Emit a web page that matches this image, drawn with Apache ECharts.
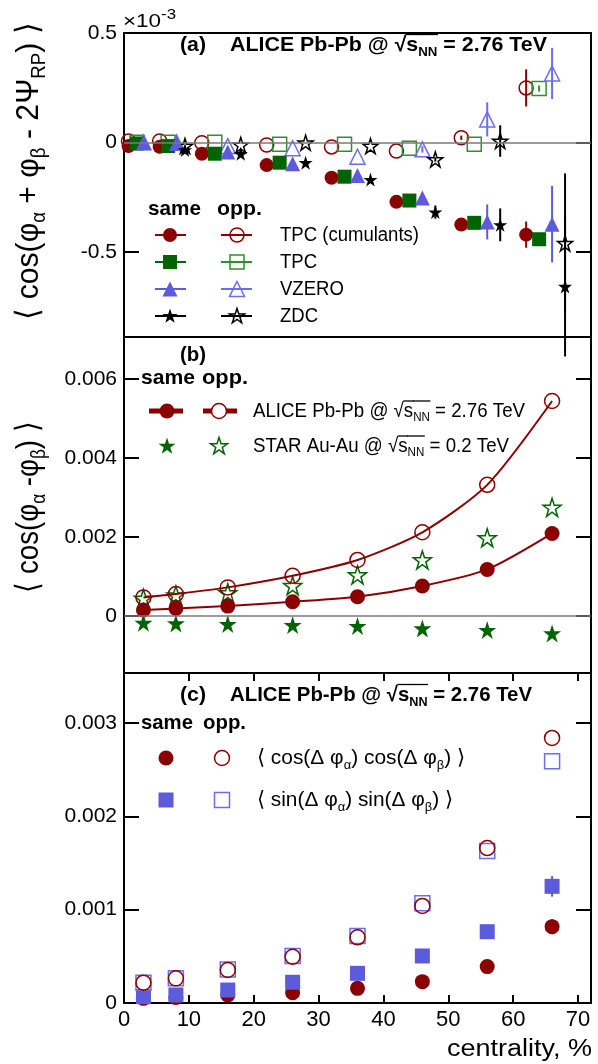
<!DOCTYPE html>
<html><head><meta charset="utf-8">
<script src="https://cdn.jsdelivr.net/npm/echarts@6/dist/echarts.min.js"></script>
<style>html,body{margin:0;padding:0;background:#fff}#c{width:598px;height:1064px}</style>
</head><body><div id="c"></div>
<script>
const FONT = '"Liberation Sans", Arial, Helvetica, sans-serif';

// ---------- tick values ----------
const xTicks = [0, 10, 20, 30, 40, 50, 60, 70];
const yTicksA = [-0.5, 0, 0.5];
const yTicksB = [0, 0.002, 0.004, 0.006];
const yTicksC = [0, 0.001, 0.002, 0.003];

// ---------- panel (a): <cos(phi_a + phi_b - 2 Psi_RP)> x 1e-3 ----------
const xCum   = [0.7, 5.5, 12, 22, 32, 42, 52, 62];
const xTPC   = [2.0, 6.8, 14, 24, 34, 44, 54, 64];
const xVZERO = [3.0, 8.1, 16, 26, 36, 46, 56, 66];
const xZDC   = [9.4, 18, 28, 38, 48, 58, 68];

const cumSame    = [-0.017, -0.020, -0.052, -0.104, -0.162, -0.272, -0.376, -0.422];
const cumSameErr = [0, 0, 0, 0, 0, 0, 0.010, 0.060];
const cumOpp     = [0.006, 0.006, -0.002, -0.012, -0.021, -0.040, 0.021, 0.249];
const cumOppErr  = [0, 0, 0, 0, 0, 0, 0.010, 0.085];
const tpcSame    = [-0.005, -0.017, -0.052, -0.093, -0.157, -0.266, -0.368, -0.443];
const tpcSameErr = [0, 0, 0, 0, 0, 0, 0, 0.014];
const tpcOpp     = [0.000, 0.001, 0.000, -0.009, -0.009, -0.027, -0.009, 0.246];
const tpcOppErr  = [0, 0, 0, 0, 0, 0, 0, 0.014];
const v0Same     = [-0.002, -0.005, -0.044, -0.098, -0.151, -0.254, -0.364, -0.374];
const v0SameErr  = [0, 0, 0, 0, 0, 0.020, 0.080, 0.175];
const v0Opp      = [0.000, 0.000, -0.017, -0.027, -0.066, -0.032, 0.105, 0.315];
const v0OppErr   = [0, 0, 0, 0, 0, 0.015, 0.078, 0.117];
const zdcSame    = [-0.035, -0.052, -0.093, -0.170, -0.319, -0.377, -0.659];
const zdcSameErr = [0, 0, 0, 0, 0.030, 0.075, 0.320];
const zdcOpp     = [-0.017, -0.012, -0.002, -0.017, -0.078, 0.006, -0.462];
const zdcOppErr  = [0, 0, 0, 0, 0.010, 0.072, 0.320];

// ---------- panel (b): <cos(phi_a - phi_b)> ----------
const xBins = [3, 8, 16, 26, 36, 46, 56, 66];
const aliceSame = [0.000152, 0.000194, 0.000253, 0.000363, 0.000489, 0.00076, 0.00118, 0.00209];
const aliceOpp  = [0.000473, 0.000557, 0.000726, 0.00102, 0.00142, 0.00212, 0.00332, 0.00544];
const starSame  = [-0.000169, -0.000186, -0.000203, -0.000228, -0.000253, -0.000312, -0.000354, -0.000439];
const starOpp   = [0.000447, 0.000532, 0.00059, 0.000768, 0.00104, 0.00142, 0.00198, 0.00275];

// ---------- panel (c) ----------
const cosSame    = [0.00005, 0.00006, 0.000086, 0.00011, 0.000157, 0.000229, 0.00039, 0.000818];
const cosSameErr = [0, 0, 0, 0, 0, 0, 0, 0.00008];
const cosOpp     = [0.000218, 0.000264, 0.000354, 0.000496, 0.000704, 0.00104, 0.00166, 0.00284];
const sinSame    = [0.000068, 0.000086, 0.000139, 0.000222, 0.000318, 0.000504, 0.000764, 0.00125];
const sinSameErr = [0, 0, 0, 0, 0, 0, 0, 0.00011];
const sinOpp     = [0.000218, 0.000266, 0.00036, 0.000503, 0.000718, 0.00107, 0.00163, 0.00259];

// ---------- colours ----------
const RED = '#8b0000', GREEN = '#006400', GREEN_O = '#2f8f2f', BLUE = '#5b5bdb', BLUE_O = '#6c6cf0', BLACK = '#000';
const STAR_PATH = 'path://M100,0L122.45,69.1L195.1,69.1L136.3,111.8L158.8,180.9L100,138.2L41.2,180.9L63.7,111.8L4.9,69.1L77.55,69.1Z';

const pts = (xs, ys) => xs.map((x, i) => [x, ys[i]]);
const errs = (xs, ys, es) => xs.map((x, i) => [x, ys[i], es[i]]).filter(d => d[2] > 0);

function sc(g, data, symbol, size, color, filled, z) {
  return {
    type: 'scatter', xAxisIndex: g, yAxisIndex: 2 * g, data, symbol, symbolSize: size, z: z || 3, silent: true,
    itemStyle: filled ? { color, borderWidth: 0, opacity: 1 } : { color: 'rgba(0,0,0,0)', borderColor: color, borderWidth: 1.5, opacity: 1 }
  };
}
function eb(g, data, color, w) {
  return {
    type: 'custom', xAxisIndex: g, yAxisIndex: 2 * g, data, silent: true, z: 2,
    renderItem: (p, api) => {
      const x = api.value(0), y = api.value(1), e = api.value(2);
      const a = api.coord([x, y - e]), b = api.coord([x, y + e]);
      return { type: 'line', shape: { x1: a[0], y1: a[1], x2: b[0], y2: b[1] }, style: { stroke: color, lineWidth: w || 2 } };
    }
  };
}
const zeroLine = { silent: true, symbol: 'none', label: { show: false }, lineStyle: { color: '#7a7a7a', width: 1.5, type: 'solid' }, data: [{ yAxis: 0 }], animation: false };

// ---------- axes ----------
function xAx(g, pos, show) {
  return {
    type: 'value', gridIndex: g === 3 ? 2 : g, position: pos, min: 0, max: 72,
    axisLine: { show: false, onZero: false }, splitLine: { show: false },
    axisTick: { show: show, inside: true, length: 8, lineStyle: { color: '#000', width: 2 }, customValues: xTicks },
    axisLabel: { show: show && pos === 'bottom', color: '#000', fontSize: 22, fontFamily: FONT, margin: 6, customValues: xTicks, showMinLabel: true, showMaxLabel: true }
  };
}
function yAx(g, pos, min, max, ticks) {
  return {
    type: 'value', gridIndex: g, position: pos, min, max,
    axisLine: { show: false, onZero: false }, splitLine: { show: false },
    axisTick: { show: true, inside: true, length: 15, lineStyle: { color: '#000', width: 2 }, customValues: ticks },
    axisLabel: { show: pos === 'left', color: '#000', fontSize: 21, fontFamily: FONT, margin: 7, customValues: ticks, showMinLabel: true, showMaxLabel: true }
  };
}

// ---------- text helpers ----------
const ctx = document.createElement('canvas').getContext('2d');
function tw(t, font) { ctx.font = font; return ctx.measureText(t).width; }
function fontOf(size, bold) { return (bold ? 'bold ' : '') + size + 'px ' + FONT; }
function layout(segs, o) {
  const kids = []; let x = 0;
  segs.forEach(s => {
    const size = o.size * (s.k || 1);
    const font = fontOf(size, s.b !== undefined ? s.b : o.bold);
    const w = tw(s.t, font);
    kids.push({ type: 'text', x: x, y: (s.dy || 0) * o.size, silent: true,
      style: { text: s.t, font, fill: o.color || '#000', align: 'left', verticalAlign: 'middle', textAlign: 'left', textVerticalAlign: 'middle' } });
    if (s.ov) kids.push({ type: 'line', silent: true, shape: { x1: x - 0.5, y1: -0.5 * o.size, x2: x + w + 0.5, y2: -0.5 * o.size }, style: { stroke: o.color || '#000', lineWidth: 1.3 } });
    x += w;
  });
  return { kids, W: x };
}
function textBlock(segs, o) {
  const L = layout(segs, o);
  const sx = o.width ? o.width / L.W : (o.sx || 1);
  const shift = o.anchor === 'center' ? -L.W / 2 : (o.anchor === 'right' ? -L.W : 0);
  return { type: 'group', x: o.x, y: o.y, rotation: o.rot || 0, scaleX: sx, scaleY: o.sy || 1, silent: true,
    children: [{ type: 'group', x: shift, y: 0, children: L.kids }] };
}
function scaleFor(segs, o, target) { return target / layout(segs, o).W; }

const SUB = 0.62, SD = 0.33;
const sqrtS = (pre, post) => [{ t: pre }, { t: '√' }, { t: 's', ov: 1 }, { t: 'NN', k: SUB, dy: SD, ov: 1 }, { t: post }];

// ---------- legend shapes ----------
function starPts(cx, cy, R) {
  const p = [];
  for (let k = 0; k < 10; k++) {
    const r = k % 2 ? R * 0.382 : R; const a = (-90 + 36 * k) * Math.PI / 180;
    p.push([cx + r * Math.cos(a), cy + r * Math.sin(a) + R * 0.05]);
  }
  return p;
}
function shape(kind, cx, cy, s, color, filled, fillOpen) {
  const style = filled ? { fill: color, stroke: null } : { fill: fillOpen || 'rgba(0,0,0,0)', stroke: color, lineWidth: 1.5 };
  if (kind === 'circle') return { type: 'circle', shape: { cx, cy, r: s / 2 }, style, silent: true };
  if (kind === 'rect') return { type: 'rect', shape: { x: cx - s / 2, y: cy - s / 2, width: s, height: s }, style, silent: true };
  if (kind === 'tri') return { type: 'polygon', shape: { points: [[cx, cy - s / 2], [cx + s / 2, cy + s / 2], [cx - s / 2, cy + s / 2]] }, style, silent: true };
  return { type: 'polygon', shape: { points: starPts(cx, cy, s / 2) }, style, silent: true };
}
const hline = (x1, x2, y, color, w) => ({ type: 'line', silent: true, shape: { x1, y1: y, x2, y2: y }, style: { stroke: color, lineWidth: w } });

const graphics = [];
// ×10^-3
graphics.push(textBlock([{ t: '×10' }, { t: '-3', k: 0.75, dy: -0.38 }], { x: 123, y: 22, size: 19, width: 53 }));
// titles
graphics.push(textBlock([{ t: '(a)' }], { x: 180, y: 45, size: 21, bold: true, width: 26 }));
graphics.push(textBlock(sqrtS('ALICE Pb-Pb @ ', ' = 2.76 TeV'), { x: 230, y: 45, size: 21, bold: true, width: 317 }));
graphics.push(textBlock([{ t: '(b)' }], { x: 180, y: 355, size: 21, bold: true, width: 26 }));
graphics.push(textBlock([{ t: '(c)' }], { x: 180, y: 695, size: 21, bold: true, width: 26 }));
graphics.push(textBlock(sqrtS('ALICE Pb-Pb @ ', ' = 2.76 TeV'), { x: 230, y: 695, size: 21, bold: true, width: 302 }));
// same / opp headers
[[148, 217, 209, 53, 45], [141, 202, 378, 54, 46], [141, 203, 723, 52, 43]].forEach(r => {
  graphics.push(textBlock([{ t: 'same' }], { x: r[0], y: r[2], size: 21, bold: true, width: r[3] }));
  graphics.push(textBlock([{ t: 'opp.' }], { x: r[1], y: r[2], size: 21, bold: true, width: r[4] }));
});
// legend (a)
const legA = [['TPC (cumulants)', 'circle', RED, RED, 14], ['TPC', 'rect', GREEN, GREEN_O, 14], ['VZERO', 'tri', BLUE, BLUE_O, 15], ['ZDC', 'star', BLACK, BLACK, 16]];
const legARows = [235, 262, 289, 316];
const sxA = scaleFor([{ t: 'TPC (cumulants)' }], { size: 20 }, 139);
legA.forEach((r, i) => {
  const y = legARows[i];
  graphics.push(hline(155, 186, y, r[2], 2));
  graphics.push(shape(r[1], 170, y, r[4], r[2], true));
  graphics.push(hline(221, 252, y, r[3], 2));
  graphics.push(shape(r[1], 237, y, r[4], r[3], false));
  graphics.push(textBlock([{ t: r[0] }], { x: 280, y, size: 20, sx: sxA }));
});
// legend (b)
graphics.push(hline(149, 183, 411, RED, 5));
graphics.push(shape('circle', 167, 411, 15, RED, true));
graphics.push(hline(203, 237, 411, RED, 5));
graphics.push(shape('circle', 219, 411, 15, RED, false, '#fff'));
graphics.push(shape('star', 167, 446, 18, GREEN, true));
graphics.push(shape('star', 219, 446, 18, GREEN, false));
const sxB = scaleFor(sqrtS('ALICE Pb-Pb @ ', ' = 2.76 TeV'), { size: 20 }, 272);
graphics.push(textBlock(sqrtS('ALICE Pb-Pb @ ', ' = 2.76 TeV'), { x: 253, y: 411, size: 20, sx: sxB }));
graphics.push(textBlock(sqrtS('STAR Au-Au @ ', ' = 0.2 TeV'), { x: 253, y: 446, size: 20, sx: sxB }));
// legend (c)
graphics.push(shape('circle', 166, 758, 15, RED, true));
graphics.push(shape('circle', 222, 758, 15, RED, false));
graphics.push(shape('rect', 166, 800, 15, BLUE, true));
graphics.push(shape('rect', 222, 800, 15, BLUE_O, false));
const cosSegs = [{ t: '⟨ cos(Δ φ' }, { t: 'α', k: SUB, dy: SD }, { t: ') cos(Δ φ' }, { t: 'β', k: SUB, dy: SD }, { t: ') ⟩' }];
const sinSegs = [{ t: '⟨ sin(Δ φ' }, { t: 'α', k: SUB, dy: SD }, { t: ') sin(Δ φ' }, { t: 'β', k: SUB, dy: SD }, { t: ') ⟩' }];
graphics.push(textBlock(cosSegs, { x: 257, y: 758, size: 21, width: 208 }));
graphics.push(textBlock(sinSegs, { x: 257, y: 800, size: 21, width: 196 }));
// axis titles
const ytA = [{ t: '⟨ cos(' }, { t: 'φ' }, { t: 'α', k: SUB, dy: SD }, { t: ' + φ' }, { t: 'β', k: SUB, dy: SD }, { t: ' - 2Ψ' }, { t: 'RP', k: SUB, dy: SD }, { t: ') ⟩' }];
const ytB = [{ t: '⟨ cos(' }, { t: 'φ' }, { t: 'α', k: SUB, dy: SD }, { t: ' -φ' }, { t: 'β', k: SUB, dy: SD }, { t: ') ⟩' }];
graphics.push(textBlock(ytA, { x: 29, y: 171, size: 28, sy: 1.15, rot: Math.PI / 2, anchor: 'center', width: 297 }));
graphics.push(textBlock(ytB, { x: 29, y: 507, size: 28, sy: 1.15, rot: Math.PI / 2, anchor: 'center', width: 171 }));
graphics.push(textBlock([{ t: 'centrality, %' }], { x: 592, y: 1050, size: 23, anchor: 'right', width: 145 }));

// ---------- series ----------
const series = [
  // panel (a)
  eb(0, errs(xCum, cumOpp, cumOppErr), RED), eb(0, errs(xTPC, tpcOpp, tpcOppErr), GREEN_O),
  eb(0, errs(xVZERO, v0Opp, v0OppErr), BLUE_O), eb(0, errs(xZDC, zdcOpp, zdcOppErr), BLACK),
  eb(0, errs(xCum, cumSame, cumSameErr), RED), eb(0, errs(xTPC, tpcSame, tpcSameErr), GREEN),
  eb(0, errs(xVZERO, v0Same, v0SameErr), BLUE), eb(0, errs(xZDC, zdcSame, zdcSameErr), BLACK),
  Object.assign(sc(0, pts(xCum, cumOpp), 'circle', 14, RED, false, 3), { markLine: zeroLine }),
  sc(0, pts(xTPC, tpcOpp), 'rect', 14, GREEN_O, false, 3),
  sc(0, pts(xVZERO, v0Opp), 'triangle', 15, BLUE_O, false, 3),
  sc(0, pts(xZDC, zdcOpp), STAR_PATH, 15, BLACK, false, 3),
  sc(0, pts(xCum, cumSame), 'circle', 14, RED, true, 4),
  sc(0, pts(xTPC, tpcSame), 'rect', 14, GREEN, true, 4),
  sc(0, pts(xVZERO, v0Same), 'triangle', 15, BLUE, true, 4),
  sc(0, pts(xZDC, zdcSame), STAR_PATH, 14, BLACK, true, 4),
  // panel (b)
  Object.assign(sc(1, pts(xBins, starOpp), STAR_PATH, 18, GREEN, false, 3), { markLine: zeroLine }),
  sc(1, pts(xBins, starSame), STAR_PATH, 18, GREEN, true, 3),
  { type: 'line', xAxisIndex: 1, yAxisIndex: 2, data: pts(xBins, aliceOpp), smooth: 0.25, silent: true, z: 4,
    symbol: 'circle', symbolSize: 15, showSymbol: true, lineStyle: { color: RED, width: 2 },
    itemStyle: { color: 'rgba(0,0,0,0)', borderColor: RED, borderWidth: 1.5 } },
  { type: 'line', xAxisIndex: 1, yAxisIndex: 2, data: pts(xBins, aliceSame), smooth: 0.25, silent: true, z: 4,
    symbol: 'circle', symbolSize: 15, showSymbol: true, lineStyle: { color: RED, width: 2 },
    itemStyle: { color: RED, borderWidth: 0 } },
  // panel (c)
  eb(2, errs(xBins, cosSame, cosSameErr), RED), eb(2, errs(xBins, sinSame, sinSameErr), BLUE),
  sc(2, pts(xBins, cosSame), 'circle', 15, RED, true, 3),
  sc(2, pts(xBins, sinSame), 'rect', 15, BLUE, true, 4),
  sc(2, pts(xBins, sinOpp), 'rect', 15, BLUE_O, false, 4),
  sc(2, pts(xBins, cosOpp), 'circle', 15, RED, false, 5)
];

const gridBase = { left: 124, width: 467, show: true, borderColor: '#000', borderWidth: 2, backgroundColor: 'transparent', containLabel: false, outerBoundsMode: 'none' };
const chart = echarts.init(document.getElementById('c'), null, { renderer: 'canvas' });
chart.setOption({
  animation: false,
  backgroundColor: '#fff',
  grid: [
    Object.assign({}, gridBase, { top: 33, height: 304 }),
    Object.assign({}, gridBase, { top: 337, height: 336 }),
    Object.assign({}, gridBase, { top: 673, height: 330 })
  ],
  xAxis: [xAx(0, 'bottom', false), xAx(1, 'bottom', false), xAx(2, 'bottom', true), xAx(3, 'top', true)],
  yAxis: [
    yAx(0, 'left', -0.89, 0.5, yTicksA), yAx(0, 'right', -0.89, 0.5, yTicksA),
    yAx(1, 'left', -0.00144, 0.00706, yTicksB), yAx(1, 'right', -0.00144, 0.00706, yTicksB),
    yAx(2, 'left', 0, 0.003536, yTicksC), yAx(2, 'right', 0, 0.003536, yTicksC)
  ],
  graphic: { elements: graphics },
  series
});
</script></body></html>
